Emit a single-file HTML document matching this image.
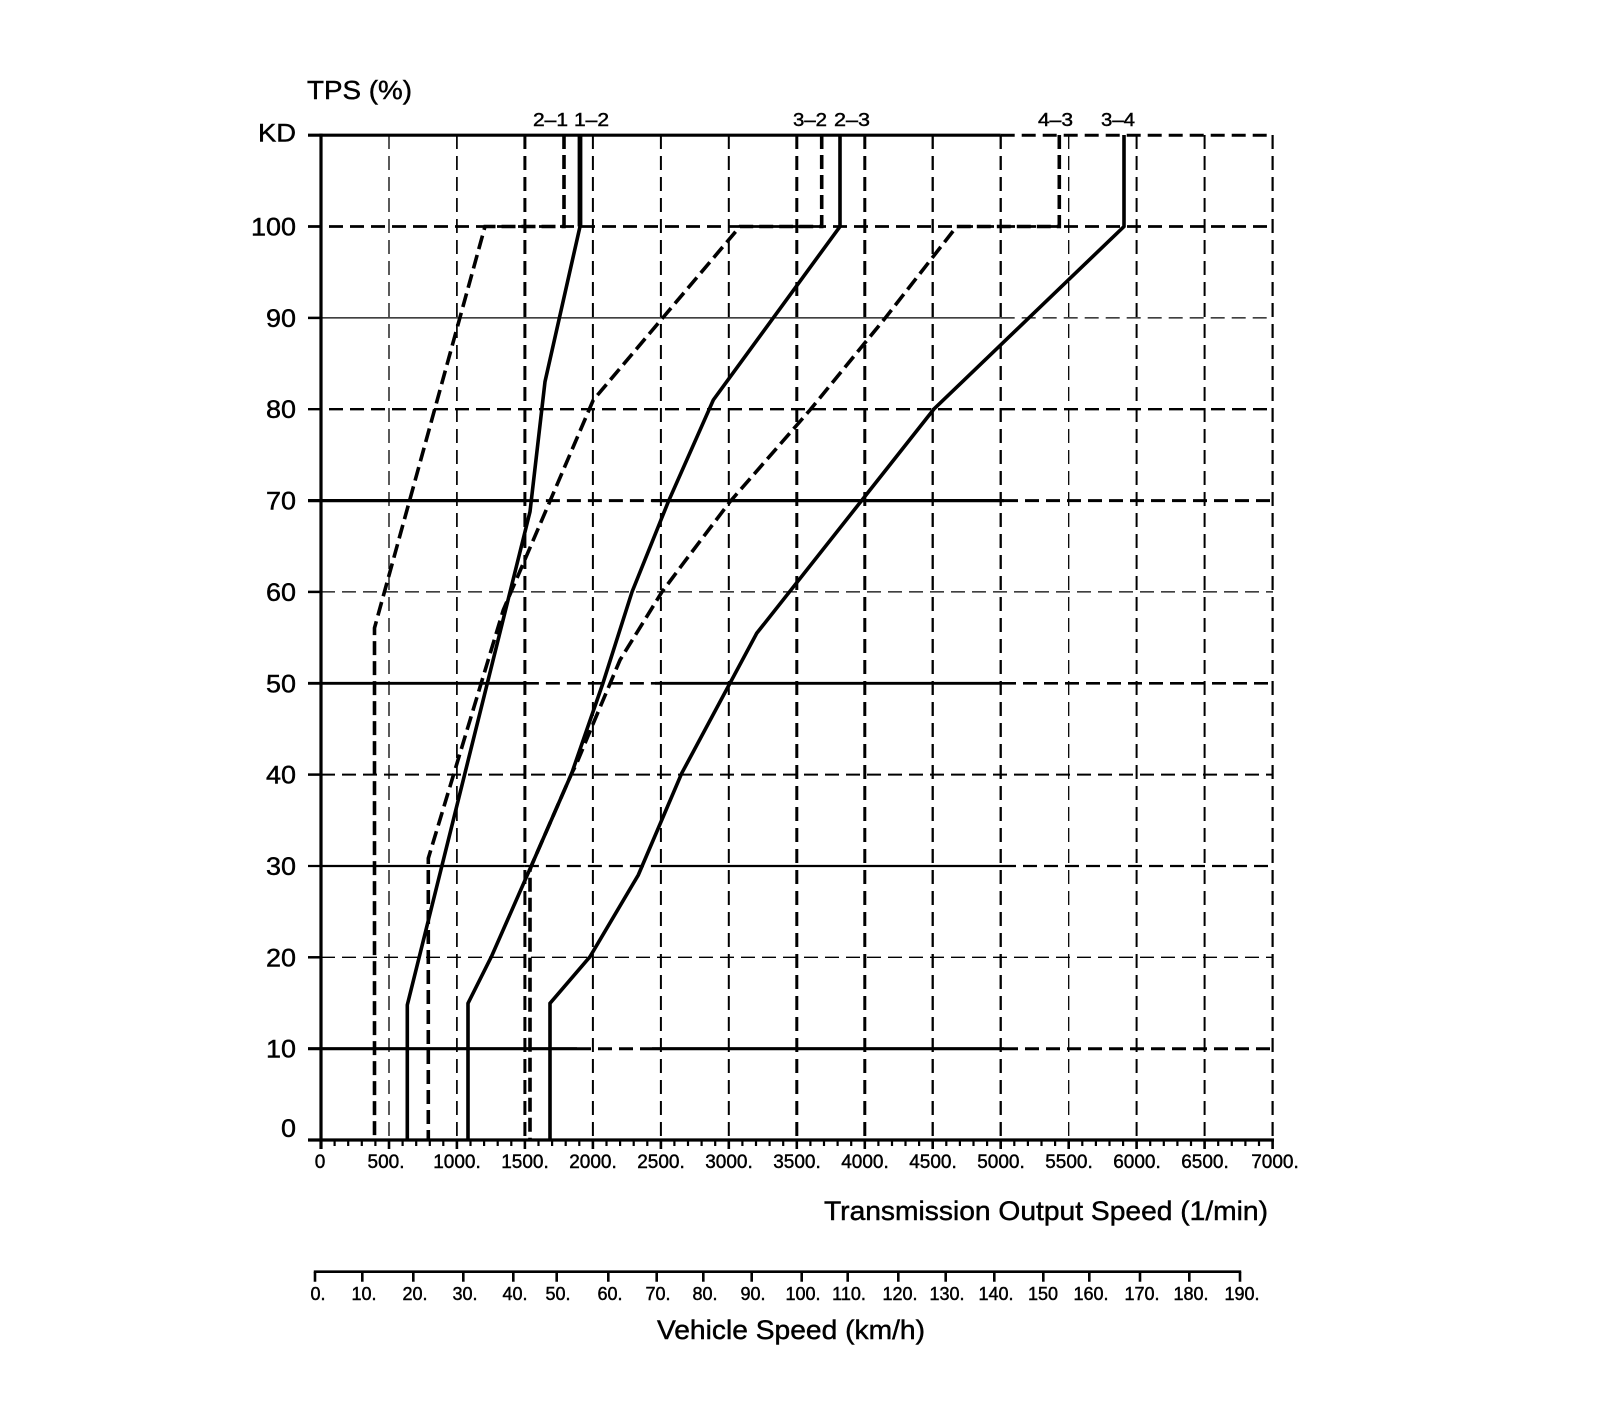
<!DOCTYPE html>
<html>
<head>
<meta charset="utf-8">
<style>
  html, body { margin: 0; padding: 0; background: #fff; }
  svg { display: block; }
  text { font-family: "Liberation Sans", Arial, sans-serif; fill: #000; stroke: #000; stroke-width: 0.45; }
</style>
</head>
<body>
<svg width="1600" height="1402" viewBox="0 0 1600 1402" xmlns="http://www.w3.org/2000/svg">
  <rect x="0" y="0" width="1600" height="1402" fill="#fff"/>

  <!-- Vertical grid lines (dashed) -->
  <g stroke="#000" fill="none" stroke-dasharray="14 7">
    <line x1="389.0" y1="135" x2="389.0" y2="1140" stroke-width="1.3"/>
    <line x1="456.9" y1="135" x2="456.9" y2="1140" stroke-width="1.7"/>
    <line x1="524.9" y1="135" x2="524.9" y2="1140" stroke-width="3"/>
    <line x1="592.9" y1="135" x2="592.9" y2="1140" stroke-width="2"/>
    <line x1="660.9" y1="135" x2="660.9" y2="1140" stroke-width="2"/>
    <line x1="728.8" y1="135" x2="728.8" y2="1140" stroke-width="2"/>
    <line x1="796.8" y1="135" x2="796.8" y2="1140" stroke-width="3"/>
    <line x1="864.8" y1="135" x2="864.8" y2="1140" stroke-width="3"/>
    <line x1="932.7" y1="135" x2="932.7" y2="1140" stroke-width="2.3"/>
    <line x1="1000.7" y1="135" x2="1000.7" y2="1140" stroke-width="2.3"/>
    <line x1="1068.7" y1="135" x2="1068.7" y2="1140" stroke-width="1.3"/>
    <line x1="1136.6" y1="135" x2="1136.6" y2="1140" stroke-width="2"/>
    <line x1="1204.6" y1="135" x2="1204.6" y2="1140" stroke-width="2"/>
    <line x1="1272.6" y1="135" x2="1272.6" y2="1140" stroke-width="2.2"/>
  </g>

  <!-- Horizontal grid lines -->
  <g stroke="#000" fill="none">
    <!-- KD -->
    <line x1="308" y1="135.2" x2="1000.7" y2="135.2" stroke-width="3.2"/>
    <line x1="1000.7" y1="135.2" x2="1273.6" y2="135.2" stroke-width="3" stroke-dasharray="14 7"/>
    <!-- 100 -->
    <line x1="308" y1="226.5" x2="1273" y2="226.5" stroke-width="2.7" stroke-dasharray="14 7"/>
    <!-- 90 -->
    <line x1="308" y1="317.9" x2="321" y2="317.9" stroke-width="2.5"/>
    <line x1="321" y1="317.9" x2="1000.7" y2="317.9" stroke-width="1.3"/>
    <line x1="1000.7" y1="317.9" x2="1273" y2="317.9" stroke-width="1.3" stroke-dasharray="14 7"/>
    <!-- 80 -->
    <line x1="308" y1="409.2" x2="1273" y2="409.2" stroke-width="2.3" stroke-dasharray="14 7"/>
    <!-- 70 -->
    <line x1="308" y1="500.6" x2="524.9" y2="500.6" stroke-width="3.3"/>
    <line x1="524.9" y1="500.6" x2="652" y2="500.6" stroke-width="3" stroke-dasharray="14 7"/>
    <line x1="652" y1="500.6" x2="1004" y2="500.6" stroke-width="3.3"/>
    <line x1="1004" y1="500.6" x2="1273" y2="500.6" stroke-width="3" stroke-dasharray="14 7"/>
    <!-- 60 -->
    <line x1="308" y1="591.9" x2="321" y2="591.9" stroke-width="2.5"/>
    <line x1="321" y1="591.9" x2="1273" y2="591.9" stroke-width="1.3" stroke-dasharray="14 7"/>
    <!-- 50 -->
    <line x1="308" y1="683.3" x2="524.9" y2="683.3" stroke-width="2.8"/>
    <line x1="524.9" y1="683.3" x2="655" y2="683.3" stroke-width="2.6" stroke-dasharray="14 7"/>
    <line x1="655" y1="683.3" x2="1002" y2="683.3" stroke-width="2.8"/>
    <line x1="1002" y1="683.3" x2="1273" y2="683.3" stroke-width="2.6" stroke-dasharray="14 7"/>
    <!-- 40 -->
    <line x1="308" y1="774.6" x2="321" y2="774.6" stroke-width="2.5"/>
    <line x1="321" y1="774.6" x2="1273" y2="774.6" stroke-width="2" stroke-dasharray="14 7"/>
    <!-- 30 -->
    <line x1="308" y1="866.0" x2="524.9" y2="866.0" stroke-width="2.3"/>
    <line x1="524.9" y1="866.0" x2="655" y2="866.0" stroke-width="2.2" stroke-dasharray="14 7"/>
    <line x1="655" y1="866.0" x2="1002" y2="866.0" stroke-width="2.3"/>
    <line x1="1002" y1="866.0" x2="1273" y2="866.0" stroke-width="2.2" stroke-dasharray="14 7"/>
    <!-- 20 -->
    <line x1="308" y1="957.3" x2="321" y2="957.3" stroke-width="2.5"/>
    <line x1="321" y1="957.3" x2="1273" y2="957.3" stroke-width="1.3" stroke-dasharray="14 7"/>
    <!-- 10 -->
    <line x1="308" y1="1048.7" x2="577" y2="1048.7" stroke-width="3.2"/>
    <line x1="577" y1="1048.7" x2="652" y2="1048.7" stroke-width="3" stroke-dasharray="14 7"/>
    <line x1="652" y1="1048.7" x2="1004" y2="1048.7" stroke-width="3.2"/>
    <line x1="1004" y1="1048.7" x2="1273" y2="1048.7" stroke-width="3" stroke-dasharray="14 7"/>
    <!-- 0 axis -->
    <line x1="308" y1="1140" x2="1274" y2="1140" stroke-width="3.2"/>
    <!-- Y axis -->
    <line x1="321" y1="133.6" x2="321" y2="1149" stroke-width="3.2"/>
  </g>

  <!-- X axis ticks -->
  <path stroke="#000" stroke-width="2.2" fill="none" d="
    M334.6,1140v6 M348.2,1140v6 M361.8,1140v6 M375.4,1140v6
    M402.6,1140v6 M416.2,1140v6 M429.8,1140v6 M443.3,1140v6
    M470.5,1140v6 M484.1,1140v6 M497.7,1140v6 M511.3,1140v6
    M538.5,1140v6 M552.1,1140v6 M565.7,1140v6 M579.3,1140v6
    M606.5,1140v6 M620.1,1140v6 M633.7,1140v6 M647.3,1140v6
    M674.4,1140v6 M688.0,1140v6 M701.6,1140v6 M715.2,1140v6
    M742.4,1140v6 M756.0,1140v6 M769.6,1140v6 M783.2,1140v6
    M810.4,1140v6 M824.0,1140v6 M837.6,1140v6 M851.2,1140v6
    M878.4,1140v6 M892.0,1140v6 M905.5,1140v6 M919.1,1140v6
    M946.3,1140v6 M959.9,1140v6 M973.5,1140v6 M987.1,1140v6
    M1014.3,1140v6 M1027.9,1140v6 M1041.5,1140v6 M1055.1,1140v6
    M1082.3,1140v6 M1095.9,1140v6 M1109.5,1140v6 M1123.1,1140v6
    M1150.2,1140v6 M1163.8,1140v6 M1177.4,1140v6 M1191.0,1140v6
    M1218.2,1140v6 M1231.8,1140v6 M1245.4,1140v6 M1259.0,1140v6"/>
  <path stroke="#000" stroke-width="2.6" fill="none" d="
    M389.0,1140v9 M456.9,1140v9 M524.9,1140v9 M592.9,1140v9 M660.9,1140v9
    M728.8,1140v9 M796.8,1140v9 M864.8,1140v9 M932.7,1140v9 M1000.7,1140v9
    M1068.7,1140v9 M1136.6,1140v9 M1204.6,1140v9 M1272.6,1140v9"/>

  <!-- Shift curves -->
  <g fill="none" stroke="#000" stroke-linejoin="miter" stroke-linecap="butt">
    <!-- 2-1 dashed -->
    <path d="M564,135 V226.5 H485 L374.5,628 V1140" stroke-width="3.6" stroke-dasharray="14 6"/>
    <!-- 1-2 solid -->
    <path d="M580,135 V226.5 L545,381.7 L530,511.7 L407.3,1005 V1140" stroke-width="3.6"/>
    <path d="M580,135 V226.5" stroke-width="4.8"/>
    <!-- 3-2 dashed -->
    <path d="M821.7,135 V226.5 H740 L593.3,400 L503.3,610 L428.3,858.3 V1140" stroke-width="3.6" stroke-dasharray="14 6"/>
    <!-- 2-3 solid -->
    <path d="M840,135 V226.5 L713.3,400 L668.3,501.7 L632,592 L603,683 L571.7,773.3 L531.7,865 L491.7,956 L468,1003.3 V1140" stroke-width="3.6"/>
    <!-- 4-3 dashed -->
    <path d="M1059.3,135 V226.5 H956.7 L885,318.3 L810,410 L730,501.7 L683.3,563.3 L661.7,592.3 L620,660 L593.3,723.3 L576,765 L571.7,773.3 L531.7,865 L530,870 V1140" stroke-width="3.6" stroke-dasharray="14 6"/>
    <!-- 3-4 solid -->
    <path d="M1124,135 V226.5 L934,409 L756.7,633.3 L681.7,773.3 L638.3,875 L590,956.7 L550,1003.3 V1140" stroke-width="3.6"/>
  </g>

  <!-- Curve labels -->
  <g font-size="18">
    <text x="533" y="126" textLength="35" lengthAdjust="spacingAndGlyphs">2–1</text>
    <text x="574" y="126" textLength="35" lengthAdjust="spacingAndGlyphs">1–2</text>
    <text x="793" y="126" textLength="34" lengthAdjust="spacingAndGlyphs">3–2</text>
    <text x="834" y="126" textLength="36" lengthAdjust="spacingAndGlyphs">2–3</text>
    <text x="1038" y="126" textLength="35" lengthAdjust="spacingAndGlyphs">4–3</text>
    <text x="1101" y="126" textLength="34" lengthAdjust="spacingAndGlyphs">3–4</text>
  </g>

  <!-- Y axis title & labels -->
  <text x="307" y="99" font-size="26" textLength="105" lengthAdjust="spacingAndGlyphs">TPS (%)</text>
  <g font-size="25" text-anchor="end">
    <text x="296" y="141.5" textLength="38" lengthAdjust="spacingAndGlyphs">KD</text>
    <text x="296" y="235.5" textLength="45" lengthAdjust="spacingAndGlyphs">100</text>
    <text x="296" y="326.9" textLength="30" lengthAdjust="spacingAndGlyphs">90</text>
    <text x="296" y="418.2" textLength="30" lengthAdjust="spacingAndGlyphs">80</text>
    <text x="296" y="509.6" textLength="30" lengthAdjust="spacingAndGlyphs">70</text>
    <text x="296" y="600.9" textLength="30" lengthAdjust="spacingAndGlyphs">60</text>
    <text x="296" y="692.3" textLength="30" lengthAdjust="spacingAndGlyphs">50</text>
    <text x="296" y="783.6" textLength="30" lengthAdjust="spacingAndGlyphs">40</text>
    <text x="296" y="875.0" textLength="30" lengthAdjust="spacingAndGlyphs">30</text>
    <text x="296" y="966.3" textLength="30" lengthAdjust="spacingAndGlyphs">20</text>
    <text x="296" y="1057.7" textLength="30" lengthAdjust="spacingAndGlyphs">10</text>
    <text x="296" y="1137" textLength="15" lengthAdjust="spacingAndGlyphs">0</text>
  </g>

  <!-- X tick labels -->
  <g font-size="19" text-anchor="middle">
    <text x="320" y="1168">0</text>
    <text x="386" y="1168">500.</text>
    <text x="457" y="1168">1000.</text>
    <text x="525" y="1168">1500.</text>
    <text x="593" y="1168">2000.</text>
    <text x="661" y="1168">2500.</text>
    <text x="729" y="1168">3000.</text>
    <text x="797" y="1168">3500.</text>
    <text x="865" y="1168">4000.</text>
    <text x="933" y="1168">4500.</text>
    <text x="1001" y="1168">5000.</text>
    <text x="1069" y="1168">5500.</text>
    <text x="1137" y="1168">6000.</text>
    <text x="1205" y="1168">6500.</text>
    <text x="1275" y="1168">7000.</text>
  </g>

  <text x="824" y="1220" font-size="27" textLength="444" lengthAdjust="spacingAndGlyphs">Transmission Output Speed (1/min)</text>

  <!-- Vehicle speed axis -->
  <g stroke="#000" fill="none">
    <line x1="313.8" y1="1271.7" x2="1241.2" y2="1271.7" stroke-width="2.6"/>
    <path stroke-width="2.6" d="
      M315,1271.7v10 M362.3,1271.7v10 M413.3,1271.7v10 M463.3,1271.7v10
      M513.3,1271.7v10 M556.7,1271.7v10 M608.3,1271.7v10 M656.7,1271.7v10
      M703.3,1271.7v10 M751.7,1271.7v10 M801.7,1271.7v10 M847.7,1271.7v10
      M898.3,1271.7v10 M945.7,1271.7v10 M994.3,1271.7v10 M1043.3,1271.7v10
      M1089.3,1271.7v10 M1140,1271.7v10 M1189.3,1271.7v10 M1240,1271.7v10"/>
  </g>
  <g font-size="18" text-anchor="middle">
    <text x="318" y="1300">0.</text>
    <text x="364" y="1300">10.</text>
    <text x="415" y="1300">20.</text>
    <text x="465" y="1300">30.</text>
    <text x="515" y="1300">40.</text>
    <text x="558" y="1300">50.</text>
    <text x="610" y="1300">60.</text>
    <text x="658" y="1300">70.</text>
    <text x="705" y="1300">80.</text>
    <text x="753" y="1300">90.</text>
    <text x="803" y="1300">100.</text>
    <text x="849" y="1300">110.</text>
    <text x="900" y="1300">120.</text>
    <text x="947" y="1300">130.</text>
    <text x="996" y="1300">140.</text>
    <text x="1043" y="1300">150</text>
    <text x="1091" y="1300">160.</text>
    <text x="1142" y="1300">170.</text>
    <text x="1191" y="1300">180.</text>
    <text x="1242" y="1300">190.</text>
  </g>

  <text x="657" y="1339" font-size="27" textLength="268" lengthAdjust="spacingAndGlyphs">Vehicle Speed (km/h)</text>
</svg>
</body>
</html>
